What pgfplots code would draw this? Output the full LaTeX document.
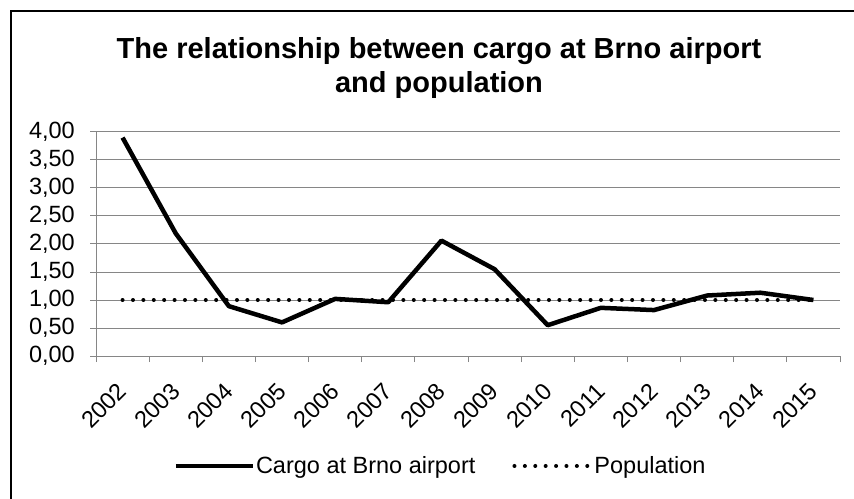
\documentclass[border=0pt]{standalone}
\usepackage{fontspec}
\setmainfont{Liberation Sans}
\usepackage{pgfplots}
\pgfplotsset{compat=1.18}
\definecolor{gridgray}{RGB}{134,134,134}
\begin{document}
\begin{tikzpicture}[font=\fontsize{23.5pt}{28pt}\selectfont]
\useasboundingbox (0,0) rectangle (854pt,498pt);
\draw[line width=2.5pt] (11pt,-5pt) -- (11pt,487pt) -- (860pt,487pt);
\node[anchor=base, inner sep=0pt, font=\fontsize{29pt}{34pt}\selectfont\bfseries] at (439pt,439pt) {The relationship between cargo at Brno airport};
\node[anchor=base, inner sep=0pt, font=\fontsize{29pt}{34pt}\selectfont\bfseries] at (439pt,405pt) {and population};
\begin{axis}[
  at={(96pt,142pt)}, anchor=south west,
  scale only axis, width=744pt, height=224pt,
  xmin=0, xmax=14, ymin=0, ymax=4,
  axis x line*=bottom, axis y line*=left,
  axis line style={gridgray, line width=1pt},
  ytick={0,0.5,...,4},
  ymajorgrids, grid style={gridgray, line width=1pt},
  xtick={0,...,14}, xticklabels={},
  tick align=outside, major tick length=6pt,
  tick style={gridgray, line width=1pt},
  /pgf/number format/.cd, fixed, fixed zerofill, precision=2, use comma, assume math mode=true,
  /pgfplots/.cd,
  yticklabel style={inner sep=0pt, xshift=-15pt, font=\fontsize{23.5pt}{28pt}\selectfont},
  extra x ticks={0.5,1.5,...,13.5},
  extra x tick labels={2002,2003,2004,2005,2006,2007,2008,2009,2010,2011,2012,2013,2014,2015},
  extra x tick style={major tick length=0pt, grid=none,
    tick label style={xshift=-6pt, yshift=-25pt, rotate=45, anchor=north east, inner sep=0pt, font=\fontsize{23.5pt}{28pt}\selectfont}},
  legend columns=2,
  legend style={at={(0.4624,-0.491)}, anchor=center, draw=none, fill=none,
    font=\fontsize{23.5pt}{28pt}\selectfont,
    /tikz/every even column/.append style={column sep=36pt},
    nodes={inner sep=1pt}},
  legend image code/.code={\draw[#1] (0pt,0pt) -- (77pt,0pt);},
]
\addplot[black, line width=4.5pt, line join=round] coordinates {
(0.5,3.90) (1.5,2.19) (2.5,0.89) (3.5,0.60) (4.5,1.02) (5.5,0.96) (6.5,2.06)
(7.5,1.55) (8.5,0.55) (9.5,0.86) (10.5,0.82) (11.5,1.08) (12.5,1.13) (13.5,1.00)};
\addlegendentry{Cargo at Brno airport}
\addplot[black, line width=4pt, line cap=round, dash pattern=on 0pt off 10.4pt] coordinates {
(0.5,1.00) (1.5,1.00) (2.5,1.00) (3.5,1.00) (4.5,1.00) (5.5,1.00) (6.5,1.00)
(7.5,1.00) (8.5,1.00) (9.5,1.00) (10.5,1.00) (11.5,1.00) (12.5,1.00) (13.5,1.00)};
\addlegendentry{Population}
\end{axis}
\end{tikzpicture}
\end{document}
